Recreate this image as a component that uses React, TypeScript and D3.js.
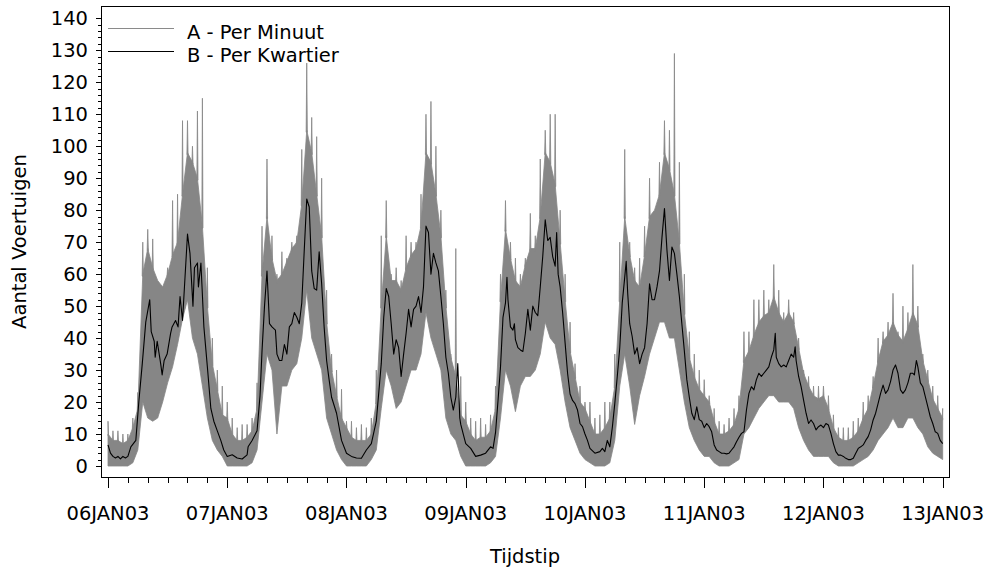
import React from "react";
import * as d3 from "d3";

// Per kwartier (black line): [hour of day, vehicles], one list per day
const kwartierMa: [number, number][] = [[0,6.6],[0.5,4],[1,3],[1.5,2.5],[2,3],[2.5,2.2],[3,3],[3.5,2.5],[4,3],[4.6,6],[5.6,8],[6.2,20],[6.9,32],[7.6,45],[8.4,52],[8.7,42],[9.3,39],[9.5,34],[9.9,39],[10.6,32],[10.9,28.5],[11.3,33],[11.9,35],[12.6,41.5],[12.9,43.5],[13.6,45.5],[14.1,43.5],[14.5,53],[15,45.5],[15.5,59],[16,72.5],[16.5,66.5],[17.1,50],[17.4,62],[18,63.5],[18.2,56],[18.7,63.5],[19.3,43.5],[20,31],[20.7,18],[21.3,14],[22,11],[22.7,8],[23.3,5]];
const kwartierDi: [number, number][] = [[0,3],[1,3.5],[2,2.5],[3,2.2],[4,3.5],[4.2,6],[5,8],[6,11],[6.6,22],[7,36],[7.5,50],[8,61],[8.5,44.5],[9,43.5],[9.7,42.5],[10,35],[10.5,33],[11,33],[11.5,38],[12,35],[12.5,43.5],[13,44.5],[13.5,48],[14,46.5],[14.5,44.5],[15,51],[15.5,67.5],[16,83.5],[16.5,81],[17,61],[17.5,55.5],[18,55],[18.5,67],[19,57],[19.5,43.5],[20,33],[20.5,27],[21,21.5],[22,16.5],[23,8]];
const kwartierWo: [number, number][] = [[0,4],[1,3],[2,2.5],[3,2.4],[4,5],[5,7],[6,14],[7,32],[7.5,46.5],[8,55.5],[8.5,53],[9,44.5],[9.5,35],[10,39.5],[10.5,37],[11,28],[11.5,35],[12,41.5],[12.5,49],[13,43.5],[13.5,49],[14,50],[14.5,53],[15,48],[15.5,56],[16,75],[16.5,73],[17,60],[17.5,66.5],[18,63.5],[18.5,61],[19,53],[19.5,44.5],[20,34],[20.5,29],[21,21.5],[21.5,17.5],[22,21.5],[22.4,32],[22.8,15],[23,13],[23.5,10]];
const kwartierDo: [number, number][] = [[0,7],[1,5.5],[2,3],[3,3.4],[4,4],[5,6],[5.5,5.5],[6,10.5],[6.5,20.5],[7,31],[7.5,46.5],[8,51],[8.3,59],[8.5,52],[9,43.5],[9.5,42.5],[9.8,44.5],[10,39.5],[10.5,37],[11,36.3],[11.5,35.8],[12,41.5],[12.5,49],[13,42.5],[13.5,50],[14,48],[14.5,47],[15,56],[15.5,65.5],[16,77],[16.5,70.5],[17,71.5],[17.5,65.5],[18,62.5],[18.3,73],[18.6,60],[19,56],[19.5,48],[20,38.5],[20.5,29],[21,22.5],[21.5,20.5],[22,19.5],[22.5,17.5],[23,13.3],[23.5,12.3]];
const kwartierVr: [number, number][] = [[0,10],[0.5,8],[1,5.5],[2,4],[3,4.5],[3.5,5.5],[4,4.5],[4.5,8],[5,6],[5.5,12],[6,19.5],[6.5,28],[7,37],[7.5,51],[8,59],[8.3,64],[8.6,54],[9,44.5],[9.5,40.5],[10,35],[10.5,37],[11,32],[11.5,35],[12,37],[12.5,44.5],[13,57],[13.5,52],[14,52],[14.5,56],[15,61],[15.5,71.5],[16,80.5],[16.5,67.5],[17,58],[17.5,68.5],[18,66.5],[18.5,60],[19,53],[19.5,44.5],[20,36],[20.5,27],[21,21.5],[21.5,16.5],[22,14.5],[22.5,18.5],[23,14.5],[23.5,14]];
const kwartierZa: [number, number][] = [[0,12],[0.5,13.3],[1,12.3],[1.5,10.7],[2,6.6],[2.5,5],[3,4.5],[3.5,4],[4,4],[4.5,3.8],[5,4],[5.5,5],[6,6],[6.5,7.6],[7,9],[7.5,10.2],[8,10.7],[8.5,17.5],[9,22.7],[9.5,24.8],[10,23.8],[10.5,27],[11,29],[11.5,28],[12,29],[12.5,30],[13,31],[13.5,34],[14,36.3],[14.3,41.5],[14.5,34],[15,32],[15.5,31],[16,31.6],[16.5,31],[17,33],[17.5,35],[18,34],[18.3,37.3],[18.5,33],[19,28],[19.5,24.8],[20,20.6],[20.5,16.5],[21,13.3],[21.5,14.4],[22,13.3],[22.5,11.3],[23,12.3],[23.5,12.8]];
const kwartierZo: [number, number][] = [[0,12],[0.5,13.3],[1,12.8],[1.5,10.2],[2,7],[2.5,4.5],[3,3.4],[3.5,3.4],[4,3],[4.5,2.4],[5,2],[5.5,2],[6,2.4],[6.5,4],[7,5.5],[7.5,6],[8,6.6],[8.5,8],[9,9.2],[9.5,11.3],[10,14.4],[10.5,16.5],[11,19.6],[11.5,22.7],[12,25.3],[12.5,22.7],[13,23.8],[13.5,26.4],[14,30],[14.5,31.6],[15,29],[15.5,23.8],[16,22.7],[16.5,23.8],[17,26],[17.5,29],[18,29],[18.3,28.5],[18.7,33],[19,31],[19.5,26],[20,24.8],[20.5,21.7],[21,18.6],[21.5,15.4],[22,13.3],[22.5,10.7],[23,10.2],[23.5,8],[24,7]];

// Per minuut (grey), per hour of each day: highest spike, top of the dense band, lowest value
const maxMa = [14,11,11,10,10,15,23,70,74,71,54,56,62,83,85,108,108,100,111,115,62,40,30,25];
const dichtMa = [10,8,8,7,8,12,18,60,68,62,58,56,60,66,70,85,98,95,90,75,50,32,24,16];
const minMa = [0,0,0,0,0,1,5,20,15,14,15,20,26,31,38,46,52,40,35,25,15,8,5,3];
const maxDi = [20,15,12,13,13,15,26,75,96,72,60,67,65,70,72,99,126,109,103,90,55,35,30,24];
const dichtDi = [15,10,8,8,9,11,18,60,78,65,58,60,64,68,70,82,105,98,85,72,45,30,22,15];
const minDi = [0,0,0,0,0,1,5,20,35,30,10,25,25,30,32,40,55,40,35,30,15,10,5,2];
const maxWo = [14,14,12,13,12,15,30,72,83,60,62,58,72,70,70,85,110,114,100,80,55,35,68,28];
const dichtWo = [12,9,8,8,8,10,20,50,72,58,58,55,62,66,68,75,98,95,85,72,50,34,28,16];
const minWo = [0,0,0,0,0,2,5,18,30,25,18,20,25,30,30,35,48,40,35,30,15,10,8,3];
const maxDo = [20,15,14,15,13,16,25,60,83,70,65,60,65,79,72,96,105,110,110,80,60,45,32,25];
const dichtDo = [14,10,8,9,9,11,18,52,74,65,58,56,63,68,68,78,98,95,88,70,52,36,28,20];
const minDo = [0,0,0,0,0,1,3,15,30,25,17,25,28,28,30,35,45,40,38,30,20,12,8,4];
const maxVr = [20,20,15,16,20,20,35,70,99,70,62,65,75,90,80,95,108,105,129,95,60,42,35,30];
const dichtVr = [18,14,10,10,12,15,25,52,78,66,58,56,66,78,80,85,98,93,85,70,48,34,28,24];
const minVr = [2,1,0,0,0,1,8,25,35,25,13,22,28,35,40,45,45,40,40,30,20,12,8,5];
const maxZa = [27,22,18,14,13,15,18,22,42,42,52,52,55,52,63,55,48,52,48,40,30,28,25,25];
const dichtZa = [22,20,14,10,10,11,13,18,33,36,41,45,47,48,53,48,45,48,45,37,29,25,22,21];
const minZa = [3,3,1,0,0,0,1,2,10,12,15,18,20,22,22,20,20,20,18,12,8,5,3,3];
const maxZo = [25,22,16,12,12,12,14,15,20,22,28,40,42,45,54,42,50,48,63,50,35,30,25,22,18];
const dichtZo = [22,18,12,9,8,8,9,11,15,18,25,33,39,41,45,41,39,43,48,44,33,27,21,18,15];
const minZo = [3,3,1,0,0,0,0,1,2,3,5,8,10,12,15,12,12,15,15,12,10,6,4,3,2];

const dagLabels = ["06JAN03", "07JAN03", "08JAN03", "09JAN03", "10JAN03", "11JAN03", "12JAN03", "13JAN03"];
const yTickValues = [0, 10, 20, 30, 40, 50, 60, 70, 80, 90, 100, 110, 120, 130, 140];
const legendLabels = ["A - Per Minuut", "B - Per Kwartier"];

const FONT = "'DejaVu Sans', Verdana, sans-serif";
const GREY = "#868686";

export default function App() {
  const W = 991, H = 574;
  const frame = { l: 101, r: 949, t: 6, b: 477 };
  const x = d3.scaleLinear().domain([0, 168]).range([108, 942.7]);
  const y = d3.scaleLinear().domain([0, 140]).range([466, 18.3]);

  const kwartier = [kwartierMa, kwartierDi, kwartierWo, kwartierDo, kwartierVr, kwartierZa, kwartierZo]
    .flatMap((day, i) => day.map(([h, v]) => [h + 24 * i, v] as [number, number]));
  const maxAll = [maxMa, maxDi, maxWo, maxDo, maxVr, maxZa, maxZo].flat();
  const dichtAll = [dichtMa, dichtDi, dichtWo, dichtDo, dichtVr, dichtZa, dichtZo].flat();
  const minAll = [minMa, minDi, minWo, minDo, minVr, minZa, minZo].flat();

  // dense band: from hourly minimum to top of dense part
  const band = d3.area<number>()
    .x((_, i) => x(i))
    .y0((_, i) => y(minAll[i]))
    .y1((d) => y(d))(dichtAll) || "";

  // thin spikes for each hour's maximum
  const spikePath = maxAll.map((m, i) => {
    const base = dichtAll[i];
    if (m <= base) return "";
    const xl = x(Math.max(0, i - 0.12)), xr = x(Math.min(168, i + 0.12)), xc = x(i);
    return `M${xl},${y(base) + 2}L${xc},${y(m)}L${xr},${y(base) + 2}Z`;
  }).join("");

  const line = d3.line<[number, number]>().x((d) => x(d[0])).y((d) => y(d[1]))(kwartier) || "";

  const minorY = d3.range(0, 141, 2).filter((v) => v % 10 !== 0);
  const xTicks = d3.range(0, 169, 4);

  return (
    <svg width={W} height={H} style={{ position: "absolute", left: 0, top: 0, background: "#fff" }} fontFamily={FONT}>
      <rect x={0} y={0} width={W} height={H} fill="#fff" />
      <path d={band} fill={GREY} stroke={GREY} strokeWidth={0.8} strokeLinejoin="round" />
      <path d={spikePath} fill={GREY} stroke={GREY} strokeWidth={0.8} strokeLinejoin="miter" />
      <path d={line} fill="none" stroke="#000" strokeWidth={1.1} strokeLinejoin="round" />
      <rect x={frame.l + 0.5} y={frame.t + 0.5} width={frame.r - frame.l} height={frame.b - frame.t} fill="none" stroke="#000" strokeWidth={1} />

      {/* Y axis */}
      {yTickValues.map((v) => (
        <g key={"y" + v}>
          <line x1={frame.l - 5} x2={frame.l} y1={Math.round(y(v)) + 0.5} y2={Math.round(y(v)) + 0.5} stroke="#000" />
          <text x={88} y={y(v)} dy="0.36em" textAnchor="end" fontSize={19.5} fill="#000">{v}</text>
        </g>
      ))}
      {minorY.map((v) => (
        <line key={"ym" + v} x1={frame.l - 3} x2={frame.l} y1={Math.round(y(v)) + 0.5} y2={Math.round(y(v)) + 0.5} stroke="#000" />
      ))}

      {/* X axis */}
      {xTicks.map((h) => (
        <line key={"x" + h} x1={Math.round(x(h)) + 0.5} x2={Math.round(x(h)) + 0.5} y1={frame.b + 1} y2={frame.b + (h % 24 === 0 ? 11 : 6)} stroke="#000" />
      ))}
      {dagLabels.map((lab, i) => (
        <text key={lab} x={x(i * 24)} y={520} textAnchor="middle" fontSize={19.5} fill="#000">{lab}</text>
      ))}

      {/* Titles */}
      <text x={(frame.l + frame.r) / 2} y={563} textAnchor="middle" fontSize={19.5} fill="#000">Tijdstip</text>
      <text transform={`translate(26,${(frame.t + frame.b) / 2}) rotate(-90)`} textAnchor="middle" fontSize={19.5} fill="#000">Aantal Voertuigen</text>

      {/* Legend */}
      <line x1={108} x2={174} y1={28.5} y2={28.5} stroke="#8a8a8a" strokeWidth={1} />
      <text x={187} y={38.5} fontSize={19.5} fill="#000">{legendLabels[0]}</text>
      <line x1={108} x2={174} y1={51.5} y2={51.5} stroke="#000" strokeWidth={1} />
      <text x={187} y={61.5} fontSize={19.5} fill="#000">{legendLabels[1]}</text>
    </svg>
  );
}
